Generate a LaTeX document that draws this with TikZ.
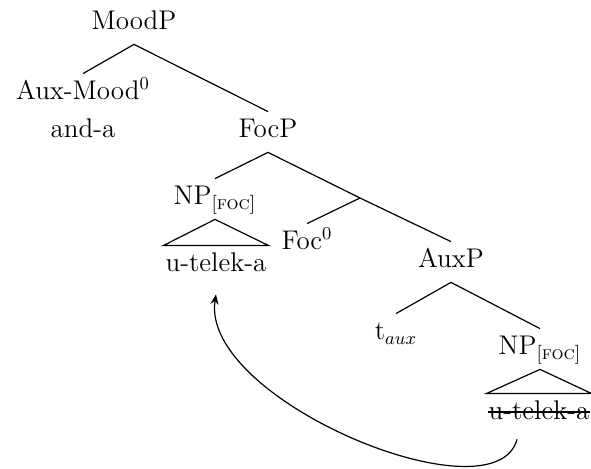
\documentclass[tikz,border=0pt]{standalone}
\usetikzlibrary{arrows.meta}

\begin{document}
\begin{tikzpicture}
[x=0.5pt,y=-0.5pt,
  cat/.style={anchor=base,inner xsep=1pt,inner ysep=3pt,text height=10pt,text depth=4pt,font=\fontsize{13.5}{16}\selectfont},%
  branch/.style={-,line width=0.6pt},
  movement/.style={-{Stealth[length=5pt,width=4pt]},line width=0.6pt}]
\useasboundingbox (0,0) rectangle (591,469);
% nodes or categories
\node (moodp) at (134,30) [cat] {MoodP};
\node (auxmood) at (83,100) [cat] {Aux-Mood$^0$};
\node (anda) at (83,138) [cat] {and-a};
\node (focp) at (268,138) [cat] {FocP};
% focus phrase
\node (np1) at (215,205) [cat] {NP\textsubscript{[\textsc{foc}]}};
\node (ut1) at (216,272) [cat] {u-telek-a};
\coordinate (focbar) at (360,198);
\node (foc0) at (307,250) [cat] {Foc$^0$};
\node (auxp) at (451,268) [cat] {AuxP};
% lower copy
\node (taux) at (396,340) [cat] {t$_{aux}$};
\node (np2) at (540,355) [cat] {NP\textsubscript{[\textsc{foc}]}};
\node (ut2) at (539,420) [cat] {u-telek-a};
% edges or branches
\path
(moodp.south) edge[branch] (auxmood.north)
(moodp.south) edge[branch] (focp.north)
(focp.south) edge[branch] (np1.north)
(focp.south) edge[branch] (focbar)
(focbar) edge[branch] (foc0.north)
(focbar) edge[branch] (auxp.north)
(auxp.south) edge[branch] (taux.north)
(auxp.south) edge[branch] (np2.north);
% triangles
\draw[branch] (np1.south) -- (ut1.north west) -- (ut1.north east) -- cycle;
\draw[branch] (np2.south) -- (ut2.north west) -- (ut2.north east) -- cycle;
% strike through the lower copy
\draw[branch] ([xshift=1pt,yshift=4pt]ut2.base west) -- ([xshift=-1pt,yshift=4pt]ut2.base east);
% movement arrow
\draw[movement] ([xshift=-11pt,yshift=-2.5pt]ut2.south) .. controls +(-22,82) and +(-16,106) .. ([yshift=-4pt]ut1.south);
\end{tikzpicture}
\end{document}
